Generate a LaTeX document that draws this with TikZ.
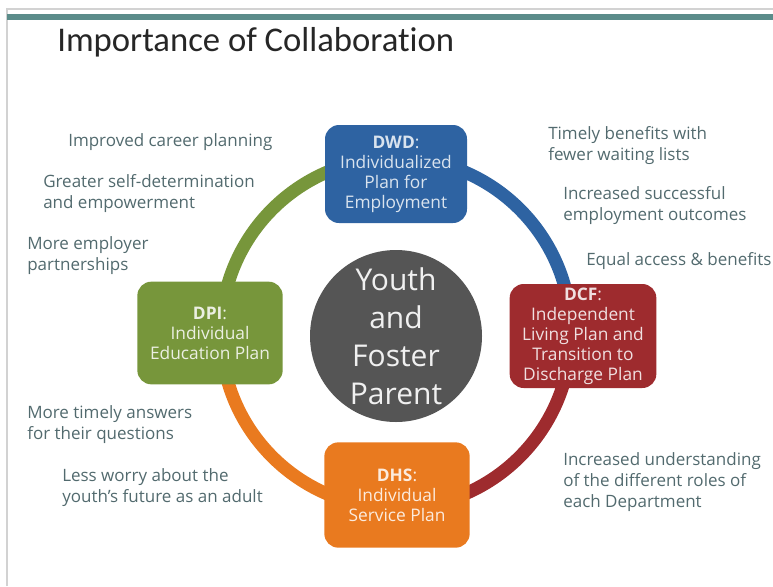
\documentclass[tikz,border=0pt]{standalone}
\usepackage{fontspec}
\setmainfont{Open Sans}
\newfontfamily\titlefont[Ligatures=NoCommon]{Carlito}

\definecolor{dwdblue}{HTML}{2E63A2}
\definecolor{dcfred}{HTML}{9E2B2E}
\definecolor{dpigreen}{HTML}{77963B}
\definecolor{dhsorange}{HTML}{E97A1F}
\definecolor{hubgrey}{HTML}{555555}
\definecolor{gaintext}{HTML}{526A6E}
\definecolor{barteal}{HTML}{5B8C8A}
\definecolor{framegrey}{HTML}{D2D2D2}

\tikzset{
    dept/.style={rounded corners=10.5pt, minimum width=109pt, minimum height=77pt,
        inner sep=0pt, align=center, font=\fontsize{13}{15}\selectfont},
    gain/.style={anchor=base west, align=left, inner sep=0pt, text=gaintext,
        font=\fontsize{12.75}{15.4}\selectfont},
    ringarc/.style={line width=9.75pt},
}

\begin{document}
\begin{tikzpicture}[x=0.75pt, y=-0.75pt]
    \useasboundingbox (0,0) rectangle (773,586);

    \draw[framegrey, line width=1.2pt] (7,586) -- (7,9) -- (773,9);
    \fill[barteal] (7,14) rectangle (773,20);
    \node[anchor=base west, inner sep=0pt, text=black!85,
        font=\titlefont\fontsize{26}{30}\selectfont] (title) at (57,51) {Importance of Collaboration};

    \coordinate (ring) at (396,333);
    \foreach \col/\from in {dpigreen/180, dwdblue/90, dcfred/0, dhsorange/-90} {
        \draw[ringarc, \col] (ring) ++(\from:131.25pt) arc[start angle=\from, delta angle=-90, radius=131.25pt];
    }

    \node[circle, fill=hubgrey, minimum size=129pt, inner sep=0pt, align=center, text=white!94!black,
        font=\fontsize{22.5}{28.5}\selectfont] (hub) at (396,336) {Youth\\and\\Foster\\Parent};

    \node[dept, fill=dwdblue, text=dwdblue!18!white, minimum width=106.5pt, minimum height=73.5pt]
        (dwd) at (396,174) {\textbf{DWD}:\\Individualized\\Plan for\\Employment};
    \node[dept, fill=dcfred, text=dcfred!15!white, minimum width=110pt, minimum height=78pt]
        (dcf) at (583,336) {\textbf{DCF}:\\Independent\\Living Plan and\\Transition to\\Discharge Plan};
    \node[dept, fill=dpigreen, text=dpigreen!15!white]
        (dpi) at (210,333) {\textbf{DPI}:\\Individual\\Education Plan};
    \node[dept, fill=dhsorange, text=dhsorange!15!white, minimum height=79pt]
        (dhs) at (397,495) {\textbf{DHS}:\\Individual\\Service Plan};

    % each text sits on the baseline of its last line
    \foreach \x/\y/\txt [count=\i] in {
        68/146/{Improved career planning},
        43/208/{Greater self-determination\\and empowerment},
        27/270/{More employer\\partnerships},
        27/439/{More timely answers\\for their questions},
        62/502/{Less worry about the\\youth’s future as an adult},
        548/160/{Timely benefits with\\fewer waiting lists},
        563/220/{Increased successful\\employment outcomes},
        586/265/{Equal access \& benefits},
        563/507/{Increased understanding\\of the different roles of\\each Department}} {
        \node[gain] (gain\i) at (\x,\y) {\txt};
    }
\end{tikzpicture}
\end{document}
